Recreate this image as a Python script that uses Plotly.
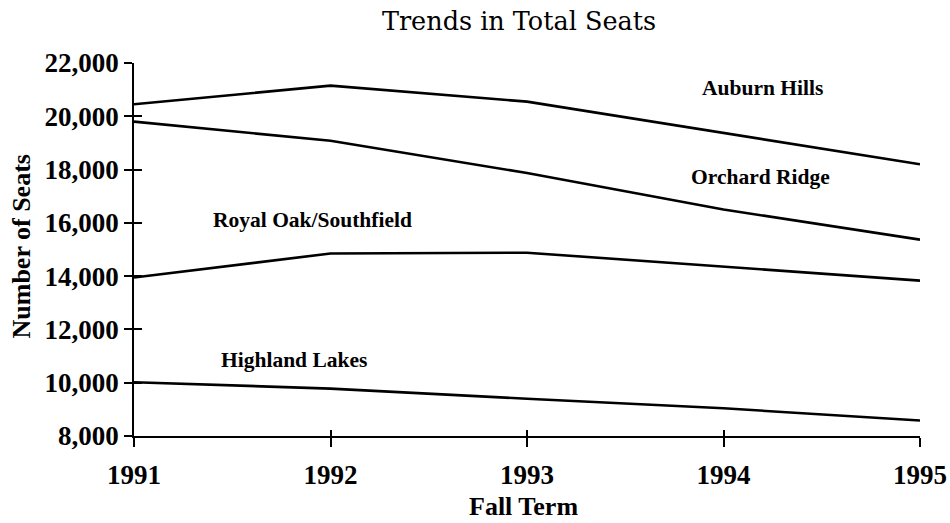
import plotly.graph_objects as go

years = [1991, 1992, 1993, 1994, 1995]
year_labels = ["1991", "1992", "1993", "1994", "1995"]
auburn_hills = [20450, 21150, 20550, 19370, 18200]
orchard_ridge = [19800, 19080, 17870, 16500, 15370]
royal_oak = [13950, 14850, 14880, 14350, 13830]
highland_lakes = [10020, 9780, 9400, 9040, 8580]

series_names = ["Auburn Hills", "Orchard Ridge", "Royal Oak/Southfield", "Highland Lakes"]
series_values = [auburn_hills, orchard_ridge, royal_oak, highland_lakes]
label_x = [1994.196, 1994.186, 1991.906, 1991.814]
label_y = [21062, 17720, 16107, 10852]

y_ticks = [8000, 10000, 12000, 14000, 16000, 18000, 20000, 22000]
y_tick_text = ["8,000", "10,000", "12,000", "14,000", "16,000", "18,000", "20,000", "22,000"]

SERIF = "Liberation Serif, Times New Roman, serif"
TITLE_FONT = "DejaVu Serif, serif"

fig = go.Figure()
for name, vals, lx, ly in zip(series_names, series_values, label_x, label_y):
    fig.add_trace(go.Scatter(x=years, y=vals, mode="lines", name=name,
                             line=dict(color="black", width=2.6), showlegend=False))
    fig.add_annotation(x=lx, y=ly, text="<b>%s</b>" % name, showarrow=False,
                       font=dict(family=SERIF, size=21.5, color="black"))

# invisible trace to activate overlay axes for inner tick halves
fig.add_trace(go.Scatter(x=[years[0]], y=[y_ticks[0]], xaxis="x2", yaxis="y2",
                         mode="markers", marker=dict(opacity=0), showlegend=False,
                         hoverinfo="skip"))

# axis titles as annotations for precise placement
fig.add_annotation(xref="paper", yref="paper", x=0.496, y=-0.19, text="<b>Fall Term</b>",
                   showarrow=False, xanchor="center", yanchor="middle",
                   font=dict(family=SERIF, size=26, color="black"))
fig.add_annotation(xref="paper", yref="paper", x=-0.143, y=0.507, text="<b>Number of Seats</b>",
                   showarrow=False, xanchor="center", yanchor="middle", textangle=-90,
                   font=dict(family=SERIF, size=26, color="black"))

fig.update_layout(
    width=950, height=523,
    margin=dict(l=134, r=30, t=63, b=87),
    paper_bgcolor="white", plot_bgcolor="white",
    title=dict(text="Trends in Total Seats", x=0.5463, xanchor="center", y=0.96, yanchor="middle",
               font=dict(family=TITLE_FONT, size=25.5, color="black")),
    xaxis=dict(range=[1991, 1995], tickvals=years, ticktext=["<b>%s</b>" % t for t in year_labels],
               automargin=False,
               showgrid=False, zeroline=False, showline=True, linecolor="black", linewidth=1.6,
               ticks="outside", ticklen=9, tickcolor="black", tickwidth=1.5,
               ticklabelstandoff=5,
               tickfont=dict(family=SERIF, size=27, color="black")),
    yaxis=dict(range=[8000, 22000], tickvals=y_ticks, ticktext=["<b>%s</b>" % t for t in y_tick_text],
               automargin=False,
               showgrid=False, zeroline=False, showline=True, linecolor="black", linewidth=1.6,
               ticks="outside", ticklen=8, tickcolor="black", tickwidth=1.5,
               ticklabelstandoff=0,
               tickfont=dict(family=SERIF, size=27, color="black")),
    xaxis2=dict(range=[1991, 1995], overlaying="x", tickvals=years, showticklabels=False,
                ticks="inside", ticklen=6, tickcolor="black", tickwidth=1.5,
                showgrid=False, zeroline=False, showline=False),
    yaxis2=dict(range=[8000, 22000], overlaying="y", tickvals=y_ticks, showticklabels=False,
                ticks="inside", ticklen=8, tickcolor="black", tickwidth=1.5,
                showgrid=False, zeroline=False, showline=False),
)

fig.write_html("out.html",
               config={"displayModeBar": False},
               post_script="document.body.style.margin='0';document.body.style.overflow='hidden';")
